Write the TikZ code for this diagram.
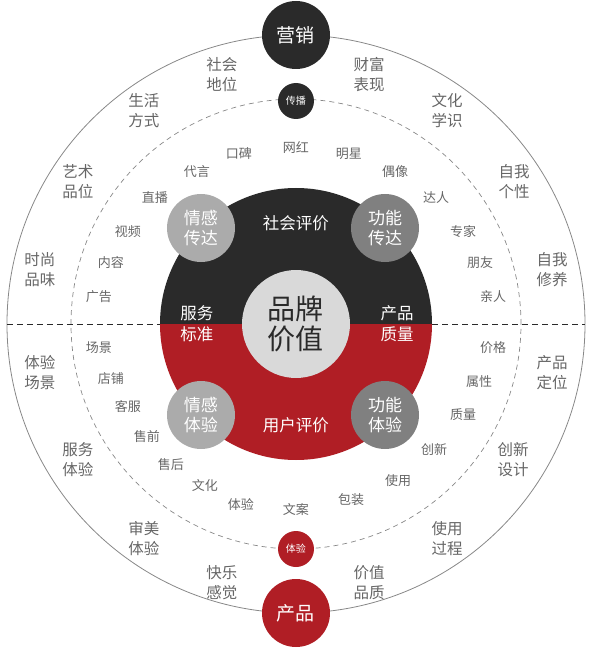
\documentclass[tikz,border=0pt]{standalone}
\usepackage{fontspec}
\newfontfamily\cjkfont{Noto Sans CJK SC}
\definecolor{diskdark}{HTML}{2A2A2A}
\definecolor{brandred}{HTML}{B01E25}
\definecolor{coregray}{HTML}{D9D9D9}
\definecolor{emogray}{HTML}{ABABAB}
\definecolor{funcgray}{HTML}{808080}
\definecolor{labelgray}{HTML}{666666}
\definecolor{linegray}{HTML}{888888}
\begin{document}
\begin{tikzpicture}[x=1pt,y=1pt]
\tikzset{outerlabel/.style = {font=\cjkfont\fontsize{15.5}{20}\selectfont, text=labelgray, align=center, inner sep=0pt},
innerlabel/.style = {font=\cjkfont\fontsize{13}{15}\selectfont, text=labelgray, inner sep=0pt},
disklabel/.style = {font=\cjkfont\fontsize{16.5}{21}\selectfont, text=white, align=center, inner sep=0pt},
ball/.style = {circle, minimum size=68pt, inner sep=0pt, text=white, align=center, font=\cjkfont\fontsize{17}{20}\selectfont},
dot/.style = {circle, minimum size=36pt, inner sep=0pt, text=white, font=\cjkfont\fontsize{10}{12}\selectfont}}
\useasboundingbox (-296,-324) rectangle (295,324);
\draw[linegray, line width=0.8pt] (0,0) circle (289);
\draw[linegray, line width=0.7pt, dash pattern=on 5pt off 4pt] (0,0) circle (225);
\draw[diskdark, line width=0.8pt, dash pattern=on 6pt off 4pt] (-289,0) -- (-136,0);
\draw[diskdark, line width=0.8pt, dash pattern=on 6pt off 4pt] (136,0) -- (289,0);
\fill[diskdark] (136,0) arc (0:180:136) -- cycle;
\fill[brandred] (-136,0) arc (180:360:136) -- cycle;
\node[circle, fill=coregray, minimum size=108pt, inner sep=0pt, align=center, text=diskdark, font=\cjkfont\fontsize{28}{30}\selectfont] (brand) at (0,0) {品牌\\价值};
\node[ball, fill=emogray] (emosend) at (-95,96) {情感\\传达};
\node[ball, fill=funcgray] (funcsend) at (89,96) {功能\\传达};
\node[ball, fill=emogray] (emoexp) at (-95,-91) {情感\\体验};
\node[ball, fill=funcgray] (funcexp) at (89,-91) {功能\\体验};
\node[disklabel] (social) at (0,101) {社会评价};
\node[disklabel] (user) at (0,-101) {用户评价};
\node[disklabel] (service) at (-99,0) {服务\\标准};
\node[disklabel] (quality) at (101,0) {产品\\质量};
\node[circle, fill=diskdark, minimum size=68pt, inner sep=0pt, text=white, font=\cjkfont\fontsize{19}{22}\selectfont] (market) at (0,289) {营销};
\node[circle, fill=brandred, minimum size=68pt, inner sep=0pt, text=white, font=\cjkfont\fontsize{19}{22}\selectfont] (product) at (0,-289) {产品};
\node[dot, fill=diskdark] (spread) at (0,223) {传播};
\node[dot, fill=brandred] (experience) at (0,-225) {体验};
\node[outerlabel] (status) at (-74,249) {社会\\地位};
\node[outerlabel] (lifestyle) at (-152,213) {生活\\方式};
\node[outerlabel] (art) at (-218,142) {艺术\\品位};
\node[outerlabel] (fashion) at (-256,54) {时尚\\品味};
\node[outerlabel] (wealth) at (73,249) {财富\\表现};
\node[outerlabel] (culture) at (151,213) {文化\\学识};
\node[outerlabel] (self) at (218,142) {自我\\个性};
\node[outerlabel] (cultivate) at (256,54) {自我\\修养};
\node[outerlabel] (scene) at (-256,-49) {体验\\场景};
\node[outerlabel] (serviceexp) at (-218,-136) {服务\\体验};
\node[outerlabel] (aesthetic) at (-152,-215) {审美\\体验};
\node[outerlabel] (joy) at (-74,-259) {快乐\\感觉};
\node[outerlabel] (position) at (256,-49) {产品\\定位};
\node[outerlabel] (design) at (217,-136) {创新\\设计};
\node[outerlabel] (usage) at (151,-215) {使用\\过程};
\node[outerlabel] (value) at (73,-259) {价值\\品质};
\node[innerlabel] (web) at (0,176) {网红};
\node[innerlabel] (mouth) at (-57,170) {口碑};
\node[innerlabel] (endorse) at (-99,152) {代言};
\node[innerlabel] (live) at (-141,126) {直播};
\node[innerlabel] (video) at (-168,92) {视频};
\node[innerlabel] (content) at (-185,61) {内容};
\node[innerlabel] (ad) at (-197,27) {广告};
\node[innerlabel] (star) at (53,170) {明星};
\node[innerlabel] (idol) at (99,152) {偶像};
\node[innerlabel] (master) at (140,126) {达人};
\node[innerlabel] (expert) at (167,92) {专家};
\node[innerlabel] (friend) at (184,61) {朋友};
\node[innerlabel] (family) at (197,27) {亲人};
\node[innerlabel] (site) at (-197,-24) {场景};
\node[innerlabel] (shop) at (-185,-55) {店铺};
\node[innerlabel] (support) at (-168,-83) {客服};
\node[innerlabel] (presale) at (-149,-113) {售前};
\node[innerlabel] (aftersale) at (-125,-141) {售后};
\node[innerlabel] (cult) at (-91,-162) {文化};
\node[innerlabel] (feel) at (-55,-180) {体验};
\node[innerlabel] (copy) at (0,-186) {文案};
\node[innerlabel] (price) at (197,-24) {价格};
\node[innerlabel] (attr) at (183,-58) {属性};
\node[innerlabel] (qual) at (167,-91) {质量};
\node[innerlabel] (innov) at (138,-126) {创新};
\node[innerlabel] (use) at (102,-157) {使用};
\node[innerlabel] (pack) at (55,-176) {包装};
\end{tikzpicture}
\end{document}
